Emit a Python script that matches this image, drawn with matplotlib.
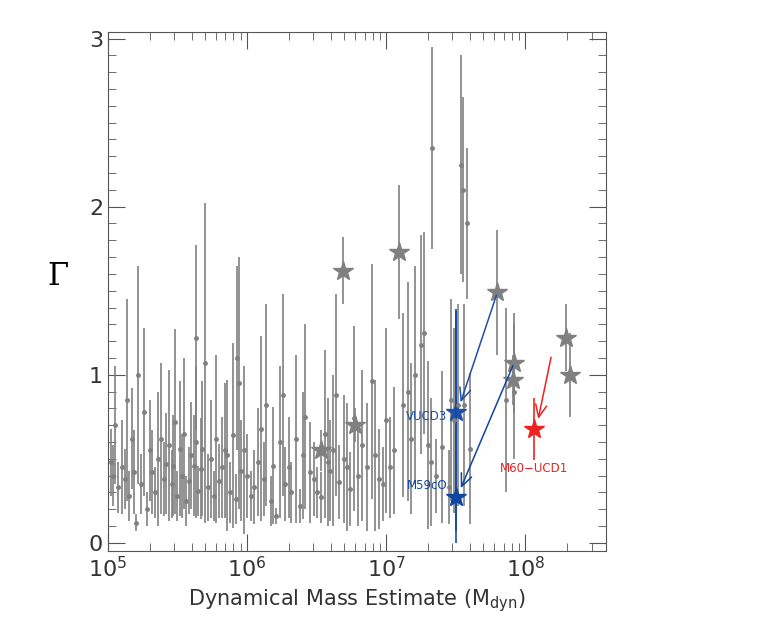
import numpy as np
import matplotlib
matplotlib.use("Agg")
import matplotlib.pyplot as plt

# small clusters: log10(M_dyn), Gamma, error
logm = [5.02, 5.04, 5.05, 5.07, 5.10, 5.12, 5.14, 5.15, 5.17, 5.19, 5.20, 5.22, 5.24, 5.26, 5.28,
        5.30, 5.32, 5.34, 5.36, 5.38, 5.40, 5.42, 5.44, 5.46, 5.47, 5.48, 5.50, 5.52, 5.53, 5.55,
        5.56, 5.58, 5.60, 5.62, 5.63, 5.65, 5.67, 5.68, 5.70, 5.72, 5.74, 5.76, 5.78, 5.80, 5.82,
        5.84, 5.86, 5.88, 5.90, 5.92, 5.94, 5.96, 5.98, 6.00, 6.03, 6.05, 6.08, 6.10, 6.12, 6.14,
        6.17, 6.19, 6.21, 6.24, 6.27, 6.30, 6.32, 6.35, 6.38, 6.40, 6.42, 6.45, 6.48, 6.50, 6.53,
        6.56, 6.58, 6.60, 6.62, 6.64, 6.66, 6.70, 6.72, 6.74, 6.77, 6.80, 6.83, 6.86, 6.90, 6.92,
        6.95, 6.98, 7.00, 7.03, 7.06, 7.12, 7.16, 7.18, 7.21, 7.25, 7.27, 7.30, 7.32, 7.36, 7.40,
        7.45, 7.47, 7.49, 7.52, 7.54, 7.56, 7.60, 7.86, 7.92, 7.33, 7.55, 7.58, 6.26, 5.93, 5.63]
gam = [0.48, 0.40, 0.70, 0.33, 0.45, 0.38, 0.85, 0.28, 0.62, 0.42, 0.12, 1.00, 0.35, 0.78, 0.20,
       0.55, 0.42, 0.30, 0.50, 0.62, 0.38, 0.47, 0.58, 0.35, 0.46, 0.72, 0.28, 0.56, 0.40, 0.65,
       0.25, 0.37, 0.52, 0.46, 0.60, 0.31, 0.44, 0.56, 1.07, 0.33, 0.50, 0.28, 0.62, 0.37, 0.45,
       0.55, 0.52, 0.30, 0.64, 0.26, 0.95, 0.43, 0.55, 0.40, 0.28, 0.33, 0.48, 0.68, 0.38, 0.82,
       0.25, 0.46, 0.16, 0.60, 0.35, 0.45, 0.30, 0.62, 0.22, 0.52, 0.75, 0.42, 0.38, 0.30, 0.27,
       0.65, 0.48, 0.43, 0.55, 0.88, 0.36, 0.50, 0.45, 0.32, 0.74, 0.40, 0.58, 0.45, 0.96, 0.52,
       0.38, 0.35, 0.73, 0.45, 0.55, 0.82, 0.90, 0.62, 1.00, 1.18, 1.25, 0.58, 0.48, 0.40, 0.57,
       0.33, 0.85, 0.73, 0.82, 2.25, 0.82, 0.56, 0.85, 0.90, 2.35, 2.10, 1.90, 0.88, 1.10, 1.22]
err = [0.20, 0.18, 0.35, 0.15, 0.28, 0.18, 0.60, 0.15, 0.30, 0.25, 0.05, 0.65, 0.18, 0.50, 0.10,
       0.30, 0.25, 0.15, 0.40, 0.45, 0.22, 0.30, 0.45, 0.20, 0.30, 0.55, 0.15, 0.40, 0.25, 0.45,
       0.15, 0.20, 0.32, 0.30, 0.45, 0.15, 0.30, 0.40, 0.95, 0.20, 0.35, 0.15, 0.50, 0.22, 0.30,
       0.40, 0.45, 0.18, 0.55, 0.15, 0.75, 0.30, 0.50, 0.25, 0.15, 0.22, 0.32, 0.55, 0.22, 0.60,
       0.15, 0.35, 0.05, 0.45, 0.22, 0.30, 0.18, 0.50, 0.10, 0.38, 0.55, 0.30, 0.22, 0.15, 0.15,
       0.50, 0.38, 0.30, 0.45, 0.60, 0.22, 0.38, 0.38, 0.22, 0.55, 0.30, 0.45, 0.38, 0.70, 0.45,
       0.30, 0.22, 0.55, 0.30, 0.38, 0.55, 0.65, 0.45, 0.65, 0.65, 0.60, 0.50, 0.38, 0.22, 0.45,
       0.22, 0.60, 0.55, 0.60, 0.65, 0.60, 0.45, 0.55, 0.40, 0.60, 0.55, 0.45, 0.60, 0.55, 0.55]

# large UCDs (grey stars)
star_logm = [6.53, 6.69, 6.78, 7.09, 7.80, 7.92, 7.91, 8.29, 8.32]
star_gam = [0.55, 1.62, 0.70, 1.73, 1.49, 1.07, 0.97, 1.22, 1.00]
star_err = [0.12, 0.20, 0.10, 0.40, 0.37, 0.30, 0.15, 0.20, 0.25]

# labelled objects
names = ["VUCD3", "M59cO", "M60-UCD1"]
obj_logm = [7.50, 7.50, 8.06]
obj_gam = [0.78, 0.27, 0.68]
obj_lo = [0.78, 0.20, 0.19]
obj_hi = [0.60, 1.12, 0.18]
obj_col = ["#1f4fa8", "#0d47a1", "#ee2222"]
# arrows: (start logm, start gam) -> object index
arrow_from = [(7.80, 1.49), (7.92, 1.07), (8.19, 1.12)]

grey = "#808080"
fig = plt.figure(figsize=(7.65, 6.38), dpi=100)
ax = fig.add_axes([0.141, 0.136, 0.651, 0.814])
ax.set_xscale("log")

m = 10 ** np.array(logm)
ax.errorbar(m, gam, yerr=err, fmt="o", ms=2.5, color=grey, ecolor=grey, elinewidth=1.2, capsize=0)
ms_ = 10 ** np.array(star_logm)
ax.errorbar(ms_, star_gam, yerr=star_err, fmt="none", ecolor=grey, elinewidth=1.2)
ax.plot(ms_, star_gam, "*", ms=15, color=grey, mec=grey)

for i, n in enumerate(names):
    x = 10 ** obj_logm[i]
    ax.errorbar([x], [obj_gam[i]], yerr=[[obj_lo[i]], [obj_hi[i]]], fmt="none",
                ecolor=obj_col[i], elinewidth=1.2)
    ax.plot([x], [obj_gam[i]], "*", ms=15, color=obj_col[i])
    sx, sy = arrow_from[i]
    ax.annotate("", xy=(x * 1.07, obj_gam[i] + 0.04), xytext=(10 ** sx, sy),
                arrowprops=dict(arrowstyle="->,head_length=0.9,head_width=0.4",
                                color=obj_col[i], lw=1.1))
ax.text(10 ** 7.44, 0.75, "VUCD3", color=obj_col[0], fontsize=8.5, ha="right", va="center")
ax.text(10 ** 7.44, 0.34, "M59cO", color=obj_col[1], fontsize=8.5, ha="right", va="center")
ax.text(10 ** 8.06, 0.44, "M60\u2212UCD1", color=obj_col[2], fontsize=8.5, ha="center", va="center")

ax.set_xlim(1e5, 10 ** 8.58)
ax.set_ylim(-0.05, 3.04)
ax.set_yticks([0, 1, 2, 3])
ax.set_yticks(np.arange(0, 3.01, 0.1), minor=True)
ax.tick_params(which="both", direction="in", top=True, right=True, labelsize=16,
               color="#555555", labelcolor="#333333")
ax.tick_params(which="major", length=12)
ax.tick_params(which="minor", length=6)
for s in ax.spines.values():
    s.set_color("#555555")
ax.set_ylabel("\u0393", fontsize=22, labelpad=22, rotation=0, family="DejaVu Serif")
ax.set_xlabel(r"Dynamical Mass Estimate (M$_{\rm dyn}$)", fontsize=15, color="#333333")
fig.savefig("out.png", dpi=100)
